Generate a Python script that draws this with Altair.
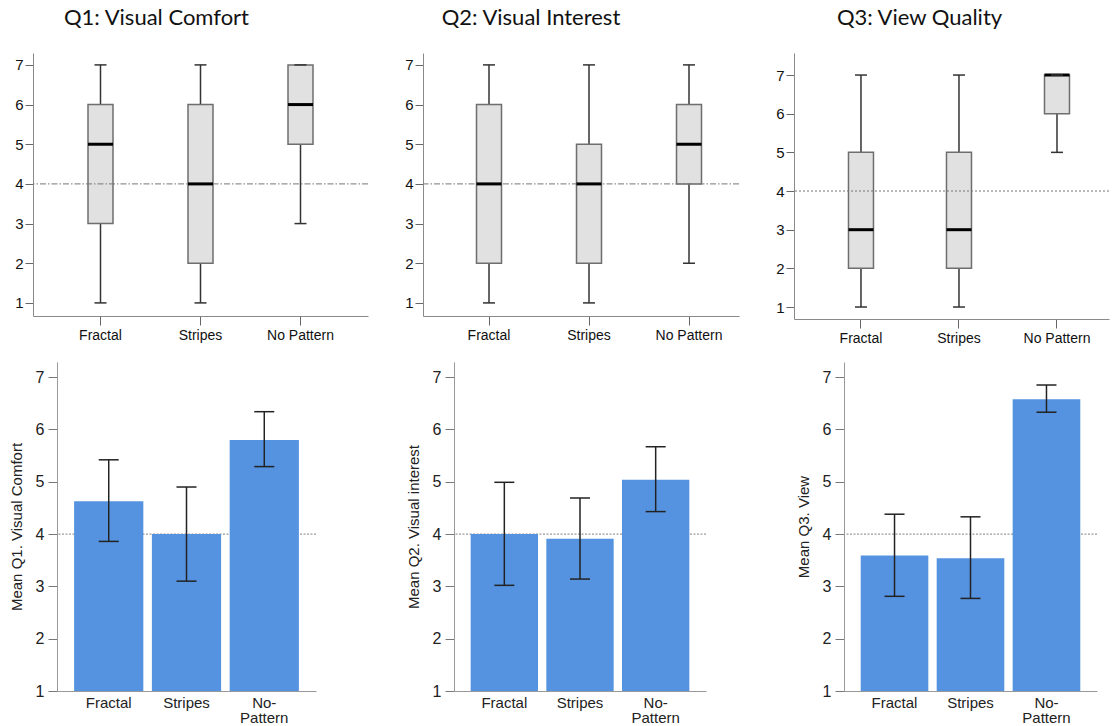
import altair as alt
import pandas as pd

# ---------------- data ----------------
box_categories = ["Fractal", "Stripes", "No Pattern"]
bar_categories = ["Fractal", "Stripes", "No-Pattern"]

box_titles = ["Q1: Visual Comfort", "Q2: Visual Interest", "Q3: View Quality"]
bar_y_titles = ["Mean Q1. Visual Comfort", "Mean Q2. Visual interest", "Mean Q3. View"]

# box plots (min, Q1, median, Q3, max)
q1_box_min = [1, 1, 3]
q1_box_lower = [3, 2, 5]
q1_box_median = [5, 4, 6]
q1_box_upper = [6, 6, 7]
q1_box_max = [7, 7, 7]

q2_box_min = [1, 1, 2]
q2_box_lower = [2, 2, 4]
q2_box_median = [4, 4, 5]
q2_box_upper = [6, 5, 6]
q2_box_max = [7, 7, 7]

q3_box_min = [1, 1, 5]
q3_box_lower = [2, 2, 6]
q3_box_median = [3, 3, 7]
q3_box_upper = [5, 5, 7]
q3_box_max = [7, 7, 7]

# bar charts (mean with error bars)
q1_mean = [4.63, 4.00, 5.80]
q1_err_low = [3.86, 3.10, 5.29]
q1_err_high = [5.42, 4.90, 6.34]

q2_mean = [4.00, 3.91, 5.04]
q2_err_low = [3.02, 3.14, 4.43]
q2_err_high = [4.99, 4.69, 5.67]

q3_mean = [3.59, 3.54, 6.58]
q3_err_low = [2.81, 2.77, 6.33]
q3_err_high = [4.38, 4.33, 6.85]

reference_level = 4
scale_ticks = [1, 2, 3, 4, 5, 6, 7]

LABEL_FONT = "Liberation Sans"
TITLE_FONT = "Lato"


def box_panel(title, mins, lowers, medians, uppers, maxs, width, height, ydomain,
              pad_outer, align, ref_dash, title_dx):
    df = pd.DataFrame({"cat": box_categories, "lo": mins, "q1": lowers,
                       "med": medians, "q3": uppers, "hi": maxs})
    x = alt.X("cat:N", sort=box_categories,
              scale=alt.Scale(paddingInner=0, paddingOuter=pad_outer, align=align),
              axis=alt.Axis(title=None, labelAngle=0, tickSize=9, labelPadding=3,
                            labelFont=LABEL_FONT, labelFontSize=14, labelColor="#111",
                            domainColor="#8a8a8a", tickColor="#666", labelOverlap=False))
    y_axis = alt.Axis(values=scale_ticks, grid=False, tickSize=8, labelPadding=2,
                      labelFont=LABEL_FONT, labelFontSize=15, labelColor="#111",
                      domainColor="#8a8a8a", tickColor="#666", title=None)
    yscale = alt.Scale(domain=ydomain, nice=False, zero=False)

    base = alt.Chart(df)
    whisker = base.mark_rule(color="#333", strokeWidth=1.5).encode(
        x=x, y=alt.Y("lo:Q", scale=yscale, axis=y_axis), y2="hi:Q")
    box = base.mark_bar(size=25, fill="#E1E1E1", stroke="#6e6e6e", strokeWidth=1.5).encode(
        x=x, y=alt.Y("q1:Q", scale=yscale, axis=y_axis), y2="q3:Q")
    ref = alt.Chart(pd.DataFrame({"ref": [reference_level]})).mark_rule(
        color="#777", strokeWidth=1, strokeDash=ref_dash).encode(
        y=alt.Y("ref:Q", scale=yscale, axis=y_axis))
    median = base.mark_tick(size=25, thickness=3, color="#000", opacity=1).encode(
        x=x, y=alt.Y("med:Q", scale=yscale, axis=y_axis))
    cap_lo = base.mark_tick(size=12, thickness=1.5, color="#333", opacity=1).encode(
        x=x, y=alt.Y("lo:Q", scale=yscale, axis=y_axis))
    cap_hi = base.mark_tick(size=12, thickness=1.5, color="#333", opacity=1).encode(
        x=x, y=alt.Y("hi:Q", scale=yscale, axis=y_axis))
    return alt.layer(whisker, box, ref, median, cap_lo, cap_hi).properties(
        width=width, height=height,
        title=alt.TitleParams(text=title, font=TITLE_FONT, fontSize=22, fontWeight="normal",
                              color="#111", anchor="middle", dx=title_dx,
                              baseline="alphabetic", offset=6))


def bar_panel(ytitle, means, lows, highs, width, height):
    df = pd.DataFrame({"cat": bar_categories, "mean": means, "lo": lows, "hi": highs})
    x = alt.X("cat:N", sort=bar_categories,
              scale=alt.Scale(paddingInner=0.11, paddingOuter=0.22),
              axis=alt.Axis(title=None, labelAngle=0, ticks=False, labelPadding=4,
                            labelFont=LABEL_FONT, labelFontSize=15, labelColor="#222",
                            labelLineHeight=15, domainColor="#999",
                            labelExpr="datum.value == 'No-Pattern' ? ['No-', 'Pattern'] : datum.value"))
    yscale = alt.Scale(domain=[1, 7.29], nice=False, zero=False)
    y_axis = alt.Axis(values=scale_ticks, grid=False, tickSize=9, labelPadding=4,
                      labelFont=LABEL_FONT, labelFontSize=16, labelColor="#222",
                      domainColor="#999", tickColor="#777",
                      title=ytitle, titleFont=LABEL_FONT, titleFontSize=15,
                      titleFontWeight="normal", titleColor="#222", titlePadding=11)
    ref = alt.Chart(pd.DataFrame({"ref": [reference_level]})).mark_rule(
        color="#999", strokeWidth=1.2, strokeDash=[2, 1.5]).encode(
        y=alt.Y("ref:Q", scale=yscale, axis=y_axis))
    base = alt.Chart(df)
    bars = base.mark_bar(color="#5593E0").encode(
        x=x, y=alt.Y("mean:Q", scale=yscale, axis=y_axis), y2=alt.datum(1))
    err = base.mark_rule(color="#222", strokeWidth=1.5).encode(
        x=x, y=alt.Y("lo:Q", scale=yscale, axis=y_axis), y2="hi:Q")
    cap_lo = base.mark_tick(size=20, thickness=1.5, color="#222", opacity=1).encode(
        x=x, y=alt.Y("lo:Q", scale=yscale, axis=y_axis))
    cap_hi = base.mark_tick(size=20, thickness=1.5, color="#222", opacity=1).encode(
        x=x, y=alt.Y("hi:Q", scale=yscale, axis=y_axis))
    return alt.layer(ref, bars, err, cap_lo, cap_hi).properties(width=width, height=height)


dash_dot = [6, 2, 1.5, 2]
dotted = [2, 2]

p1 = box_panel(box_titles[0], q1_box_min, q1_box_lower, q1_box_median, q1_box_upper, q1_box_max,
               335, 263, [0.67, 7.30], 0.175, 0.5, dash_dot, -44)
p2 = box_panel(box_titles[1], q2_box_min, q2_box_lower, q2_box_median, q2_box_upper, q2_box_max,
               316, 263, [0.67, 7.30], 0.08, 1.0, dash_dot, -50)
p3 = box_panel(box_titles[2], q3_box_min, q3_box_lower, q3_box_median, q3_box_upper, q3_box_max,
               315, 266, [0.69, 7.57], 0.107, 0.857, dotted, -32)

p4 = bar_panel(bar_y_titles[0], q1_mean, q1_err_low, q1_err_high, 259, 329)
p5 = bar_panel(bar_y_titles[1], q2_mean, q2_err_low, q2_err_high, 252, 329)
p6 = bar_panel(bar_y_titles[2], q3_mean, q3_err_low, q3_err_high, 253, 329)

# empty spacer that shifts the lower row to the right of the upper one
spacer = alt.Chart(pd.DataFrame({"v": [0]})).mark_point(opacity=0).properties(width=24, height=1)

top = alt.hconcat(p1, p2, p3, spacing=55, bounds="flush")
bottom = alt.hconcat(spacer, alt.hconcat(p4, p5, p6, spacing=138, bounds="flush"),
                     spacing=0, bounds="flush")

chart = alt.vconcat(top, bottom, spacing=14).properties(
    padding={"left": 9, "top": 7, "right": 0, "bottom": 0},
    background="white",
).configure(font=LABEL_FONT).configure_view(stroke=None)

chart.save("out.html", embed_options={"renderer": "svg", "actions": False})
